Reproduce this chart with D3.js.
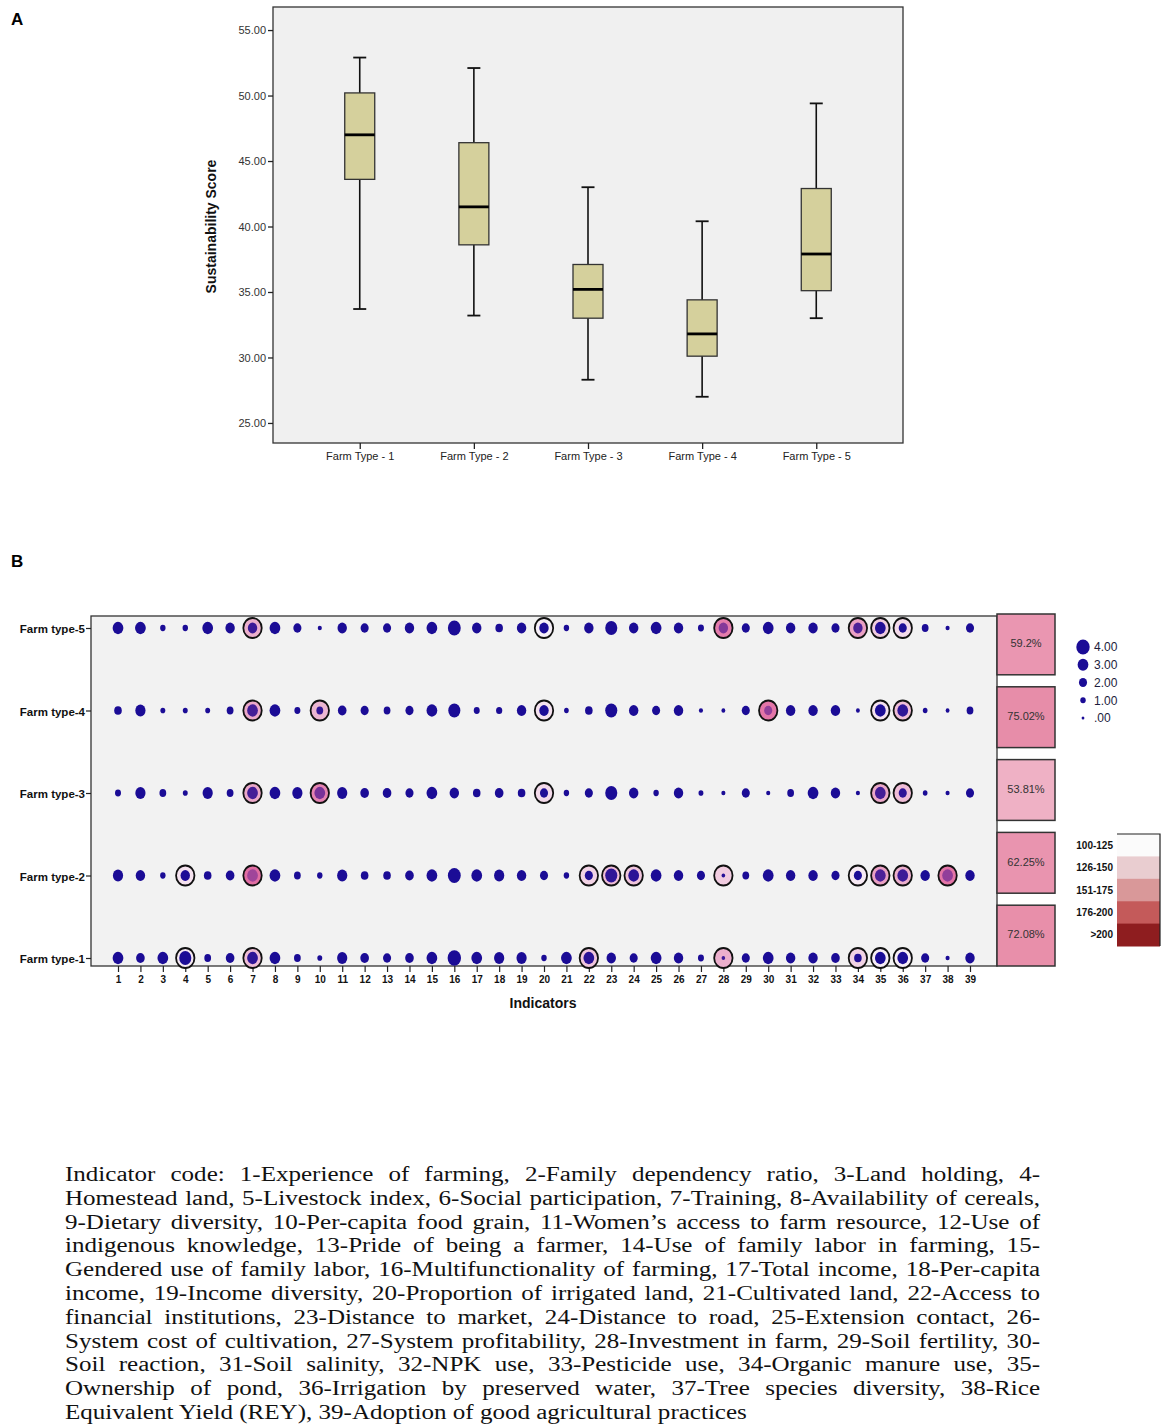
<!DOCTYPE html>
<html>
<head>
<meta charset="utf-8">
<script src="https://cdn.jsdelivr.net/npm/d3@7"></script>
<style>
  body { margin: 0; background: #fff; }
  svg { display: block; }
</style>
</head>
<body>
<svg id="fig" width="1170" height="1427"></svg>
<script>
// ---- panel A : box plot of sustainability score
var farmTypes = ["Farm Type - 1", "Farm Type - 2", "Farm Type - 3", "Farm Type - 4", "Farm Type - 5"];
var whiskerLow  = [33.7, 33.2, 28.3, 27.0, 33.0];
var q1          = [43.6, 38.6, 33.0, 30.1, 35.1];
var median      = [47.0, 41.5, 35.2, 31.8, 37.9];
var q3          = [50.2, 46.4, 37.1, 34.4, 42.9];
var whiskerHigh = [52.9, 52.1, 43.0, 40.4, 49.4];
var scoreTicks  = [25, 30, 35, 40, 45, 50, 55];

// ---- panel B : indicator dot matrix
var rowLabels = ["Farm type-5", "Farm type-4", "Farm type-3", "Farm type-2", "Farm type-1"];
var indicators = d3.range(1, 40);
// dot size (0-4) per indicator 1..39
var sizeFT5 = [3,3,1,1,3,2.5,2.5,3,2,0.5, 2.5,2,2,2.5,3,3.8,2.5,1.8,2.5,2.5, 1,2.5,3.5,2.5,3,2.5,1.2,2.5,2,3, 2.5,2.5,2,2.5,3,2,1.5,0.5,2];
var sizeFT4 = [1.8,2.8,0.8,0.8,0.8,1.5,3,3,1.2,1.5, 2.2,2,1.5,2,3,3.5,1.2,1.3,2.5,2.5, 0.7,1.8,3.5,2.5,2,2.5,0.5,0.4,2,2, 2.5,2.5,2.5,0.4,3,3,0.7,0.4,1.5];
var sizeFT3 = [1.2,2.8,1.5,0.8,2.8,1.5,3,3,2.8,3, 2.8,2.2,2.2,2,3,2.5,1.8,2.2,1.8,2, 1,2,3.5,2.5,1,2.5,0.8,0.5,2,0.5, 1.5,3,2.5,0.5,3,2,0.7,0.5,2];
var sizeFT2 = [2.8,2.5,1,2.5,1.8,2.2,3,3,1.5,1, 2.8,1.8,1.8,2.2,3,3.8,3,2.8,2.5,2, 1,2,3.5,3,3,2.5,2,0.3,1.5,3, 2.5,2.5,2,2,3,3,2.5,3,2.5];
var sizeFT1 = [3,2.2,3,3.5,1.5,2.2,3,3,1.5,0.8, 2.8,2.2,2,2.2,3,4,3,2.8,2.8,1, 3,3,2.5,2,3,2.5,1.2,0.3,2,3, 2.5,2.5,2.2,1.8,3,3,2,0.5,2.5];
// circled indicators: [indicator, pink shade 0-1]
var ringsFT5 = [[7,0.45],[20,0],[28,0.8],[34,0.55],[35,0.25],[36,0.15]];
var ringsFT4 = [[7,0.5],[10,0.4],[20,0.1],[30,0.85],[35,0.1],[36,0.35]];
var ringsFT3 = [[7,0.5],[10,0.75],[20,0.15],[35,0.5],[36,0.35]];
var ringsFT2 = [[4,0.1],[7,0.9],[22,0.2],[23,0.35],[24,0.3],[28,0.25],[34,0.05],[35,0.55],[36,0.45],[38,0.85]];
var ringsFT1 = [[4,0.05],[7,0.35],[22,0.3],[28,0.45],[34,0.2],[35,0.02],[36,0.02]];
var overallPct = [59.2, 75.02, 53.81, 62.25, 72.08];
var overallLabels = ["59.2%", "75.02%", "53.81%", "62.25%", "72.08%"];
var sizeLegendValues = [4, 3, 2, 1, 0];
var sizeLegendLabels = ["4.00", "3.00", "2.00", "1.00", ".00"];
var shadeLegendLabels = ["100-125", "126-150", "151-175", "176-200", ">200"];

var captionLines = [
  "Indicator code: 1-Experience of farming, 2-Family dependency ratio, 3-Land holding, 4-",
  "Homestead land, 5-Livestock index, 6-Social participation, 7-Training, 8-Availability of cereals,",
  "9-Dietary diversity, 10-Per-capita food grain, 11-Women\u2019s access to farm resource, 12-Use of",
  "indigenous knowledge, 13-Pride of being a farmer, 14-Use of family labor in farming, 15-",
  "Gendered use of family labor, 16-Multifunctionality of farming, 17-Total income, 18-Per-capita",
  "income, 19-Income diversity, 20-Proportion of irrigated land, 21-Cultivated land, 22-Access to",
  "financial institutions, 23-Distance to market, 24-Distance to road, 25-Extension contact, 26-",
  "System cost of cultivation, 27-System profitability, 28-Investment in farm, 29-Soil fertility, 30-",
  "Soil reaction, 31-Soil salinity, 32-NPK use, 33-Pesticide use, 34-Organic manure use, 35-",
  "Ownership of pond, 36-Irrigation by preserved water, 37-Tree species diversity, 38-Rice",
  "Equivalent Yield (REY), 39-Adoption of good agricultural practices"
];

var svg = d3.select("#fig");
var sans = "'Liberation Sans', Arial, sans-serif";

// ================= Panel A =================
var A = {left: 273, right: 903, top: 7, bottom: 443};
var gA = svg.append("g");

gA.append("text").attr("x", 11).attr("y", 25)
  .style("font", "bold 17px " + sans).text("A");

var y = d3.scaleLinear().domain([23.47, 56.76]).range([A.bottom, A.top]);
var x = d3.scalePoint().domain(farmTypes).range([A.left, A.right]).padding(0.76);

gA.append("rect")
  .attr("x", A.left).attr("y", A.top)
  .attr("width", A.right - A.left).attr("height", A.bottom - A.top)
  .attr("fill", "#f0f0f0").attr("stroke", "#333").attr("stroke-width", 1.3);

var yAxis = gA.append("g")
  .attr("transform", "translate(" + A.left + ",0)")
  .call(d3.axisLeft(y).tickValues(scoreTicks).tickSize(5).tickFormat(d3.format(".2f")));
yAxis.select(".domain").remove();
yAxis.selectAll("line").attr("stroke", "#222").attr("stroke-width", 1.3);
yAxis.selectAll("text").attr("fill", "#333").style("font", "11px " + sans).attr("x", -7);

var xAxis = gA.append("g")
  .attr("transform", "translate(0," + A.bottom + ")")
  .call(d3.axisBottom(x).tickSize(6));
xAxis.select(".domain").remove();
xAxis.selectAll("line").attr("stroke", "#222").attr("stroke-width", 1.3);
xAxis.selectAll("text").attr("fill", "#222").attr("y", 9).style("font", "11px " + sans);

gA.append("text")
  .attr("transform", "translate(216," + y(40) + ") rotate(-90)")
  .attr("text-anchor", "middle")
  .style("font", "bold 14px " + sans).attr("fill", "#111")
  .text("Sustainability Score");

var boxW = 30, capW = 13;
var boxes = gA.selectAll("g.box").data(farmTypes).enter().append("g").attr("class", "box");
boxes.append("line")
  .attr("x1", function(d) { return x(d); }).attr("x2", function(d) { return x(d); })
  .attr("y1", function(d, i) { return y(whiskerHigh[i]); })
  .attr("y2", function(d, i) { return y(whiskerLow[i]); })
  .attr("stroke", "#111").attr("stroke-width", 1.6);
boxes.selectAll("line.cap")
  .data(function(d, i) { return [{k: d, v: whiskerHigh[i]}, {k: d, v: whiskerLow[i]}]; })
  .enter().append("line").attr("class", "cap")
  .attr("x1", function(d) { return x(d.k) - capW / 2; })
  .attr("x2", function(d) { return x(d.k) + capW / 2; })
  .attr("y1", function(d) { return y(d.v); }).attr("y2", function(d) { return y(d.v); })
  .attr("stroke", "#111").attr("stroke-width", 1.8);
boxes.append("rect")
  .attr("x", function(d) { return x(d) - boxW / 2; })
  .attr("y", function(d, i) { return y(q3[i]); })
  .attr("width", boxW)
  .attr("height", function(d, i) { return y(q1[i]) - y(q3[i]); })
  .attr("fill", "#d5d09c").attr("stroke", "#333").attr("stroke-width", 1.3);
boxes.append("line")
  .attr("x1", function(d) { return x(d) - boxW / 2; })
  .attr("x2", function(d) { return x(d) + boxW / 2; })
  .attr("y1", function(d, i) { return y(median[i]); })
  .attr("y2", function(d, i) { return y(median[i]); })
  .attr("stroke", "#000").attr("stroke-width", 2.8);

// ================= Panel B =================
var B = {left: 91, right: 997, top: 616, bottom: 966};
var gB = svg.append("g");

gB.append("text").attr("x", 11).attr("y", 567)
  .style("font", "bold 17px " + sans).text("B");

var xi = d3.scalePoint().domain(indicators).range([118, 970]);
var yr = d3.scalePoint().domain(rowLabels).range([628, 958]);
var r = d3.scaleLinear().domain([0, 4]).range([1.4, 6.7]);
var dotBlue = "#1b0c96";
var ringFill = d3.interpolateRgb("#f7f0f8", "#df5f99");
var centreMix = d3.interpolateRgb(dotBlue, "#d25a9c");

gB.append("rect")
  .attr("x", B.left).attr("y", B.top)
  .attr("width", B.right - B.left).attr("height", B.bottom - B.top)
  .attr("fill", "#f2f2f2").attr("stroke", "#333").attr("stroke-width", 1.3);

var yB = gB.append("g").attr("transform", "translate(" + B.left + ",0)")
  .call(d3.axisLeft(yr).tickSize(5));
yB.select(".domain").remove();
yB.selectAll("line").attr("stroke", "#222").attr("stroke-width", 1.2);
yB.selectAll("text").attr("fill", "#111").attr("x", -6).attr("dy", "0.4em")
  .style("font", "bold 11.5px " + sans);

var xB = gB.append("g").attr("transform", "translate(0," + B.bottom + ")")
  .call(d3.axisBottom(xi).tickSize(6));
xB.select(".domain").remove();
xB.selectAll("line").attr("stroke", "#222").attr("stroke-width", 1.2);
xB.selectAll("text").attr("fill", "#111").attr("y", 10)
  .style("font", "bold 10px 'Liberation Sans Narrow', " + sans);

gB.append("text").attr("x", 543).attr("y", 1008).attr("text-anchor", "middle")
  .style("font", "bold 14px " + sans).attr("fill", "#111").text("Indicators");

var sizeRows = [sizeFT5, sizeFT4, sizeFT3, sizeFT2, sizeFT1];
var ringRows = [ringsFT5, ringsFT4, ringsFT3, ringsFT2, ringsFT1];

rowLabels.forEach(function(row, ri) {
  var shadeOf = {};
  ringRows[ri].forEach(function(p) { shadeOf[p[0]] = p[1]; });
  var cells = indicators.map(function(ind, k) {
    return {ind: ind, v: sizeRows[ri][k], shade: shadeOf[ind]};
  });
  var g = gB.append("g");
  var ringed = cells.filter(function(c) { return c.shade !== undefined; });
  g.selectAll("ellipse.ring").data(ringed).enter().append("ellipse")
    .attr("class", "ring")
    .attr("cx", function(c) { return xi(c.ind); }).attr("cy", yr(row))
    .attr("rx", 9.2).attr("ry", 10)
    .attr("fill", function(c) { return ringFill(c.shade); })
    .attr("stroke", "#111").attr("stroke-width", 1.8);
  g.selectAll("ellipse.dot").data(cells).enter().append("ellipse")
    .attr("class", "dot")
    .attr("cx", function(c) { return xi(c.ind); }).attr("cy", yr(row))
    .attr("rx", function(c) { return r(c.v); })
    .attr("ry", function(c) { return r(c.v) * 1.15; })
    .attr("fill", function(c) {
      return c.shade === undefined ? dotBlue : centreMix(c.shade * c.shade * 0.9);
    });
});

// overall percentage boxes
var yPct = d3.scaleBand().domain(rowLabels).range([614, 966]).paddingInner(0.165);
var pctColour = d3.scaleLinear().domain([53.81, 59.2, 75.02])
  .range(["#efb1c5", "#ea96b1", "#e78da9"]);
var pct = gB.selectAll("g.pct").data(rowLabels).enter().append("g").attr("class", "pct");
pct.append("rect")
  .attr("x", 997).attr("width", 58)
  .attr("y", function(d) { return yPct(d); }).attr("height", yPct.bandwidth())
  .attr("fill", function(d, i) { return pctColour(overallPct[i]); })
  .attr("stroke", "#333").attr("stroke-width", 1.5);
pct.append("text")
  .attr("x", 1026).attr("y", function(d) { return yPct(d) + yPct.bandwidth() / 2 - 1; })
  .attr("text-anchor", "middle").attr("dy", "0.35em")
  .style("font", "11px " + sans).attr("fill", "#333")
  .text(function(d, i) { return overallLabels[i]; });

// size legend
var yLeg = d3.scalePoint().domain(sizeLegendValues).range([647, 718]);
var leg = gB.selectAll("g.sleg").data(sizeLegendValues).enter().append("g").attr("class", "sleg");
leg.append("ellipse")
  .attr("cx", 1083).attr("cy", function(d) { return yLeg(d); })
  .attr("rx", function(d) { return r(d); }).attr("ry", function(d) { return r(d) * 1.12; })
  .attr("fill", dotBlue);
leg.append("text")
  .attr("x", 1094).attr("y", function(d) { return yLeg(d); }).attr("dy", "0.36em")
  .style("font", "12px " + sans).attr("fill", "#1c1c3c")
  .text(function(d, i) { return sizeLegendLabels[i]; });

// shade legend
var yShade = d3.scaleBand().domain(shadeLegendLabels).range([834, 946]);
var shadeColour = d3.scaleOrdinal().domain(shadeLegendLabels)
  .range(["#fbfbfb", "#e9cdd0", "#d99899", "#c45a5a", "#8e1d1f"]);
var sl = gB.selectAll("g.shleg").data(shadeLegendLabels).enter().append("g").attr("class", "shleg");
sl.append("rect")
  .attr("x", 1117).attr("width", 43)
  .attr("y", function(d) { return yShade(d); }).attr("height", yShade.bandwidth() + 0.5)
  .attr("fill", function(d) { return shadeColour(d); });
sl.append("text")
  .attr("x", 1113).attr("y", function(d) { return yShade(d) + yShade.bandwidth() / 2; })
  .attr("text-anchor", "end").attr("dy", "0.35em")
  .style("font", "bold 10px " + sans).attr("fill", "#111")
  .text(function(d) { return d; });
gB.append("path")
  .attr("d", "M1117,834H1160V946")
  .attr("fill", "none").attr("stroke", "#222").attr("stroke-width", 1.2);

// ================= caption =================
var cap = svg.append("g").attr("transform", "translate(65,0)");
var capText = cap.selectAll("text").data(captionLines).enter().append("text")
  .attr("x", 0)
  .attr("y", function(d, i) { return 1181 + i * 23.8; })
  .style("font", "20px 'Liberation Serif', 'Times New Roman', serif")
  .attr("fill", "#111")
  .text(function(d) { return d; });
// stretch horizontally like the scanned caption, then justify all lines but the last
var lastLen = capText.nodes()[captionLines.length - 1].getComputedTextLength();
var sx = 682 / lastLen;
cap.attr("transform", "translate(65,0) scale(" + sx + ",1)");
var fullW = 975 / sx;
capText.each(function(d, i) {
  if (i === captionLines.length - 1) return;
  var len = this.getComputedTextLength();
  var spaces = d.split(" ").length - 1;
  d3.select(this).attr("word-spacing", (fullW - len) / spaces);
});
</script>
</body>
</html>
